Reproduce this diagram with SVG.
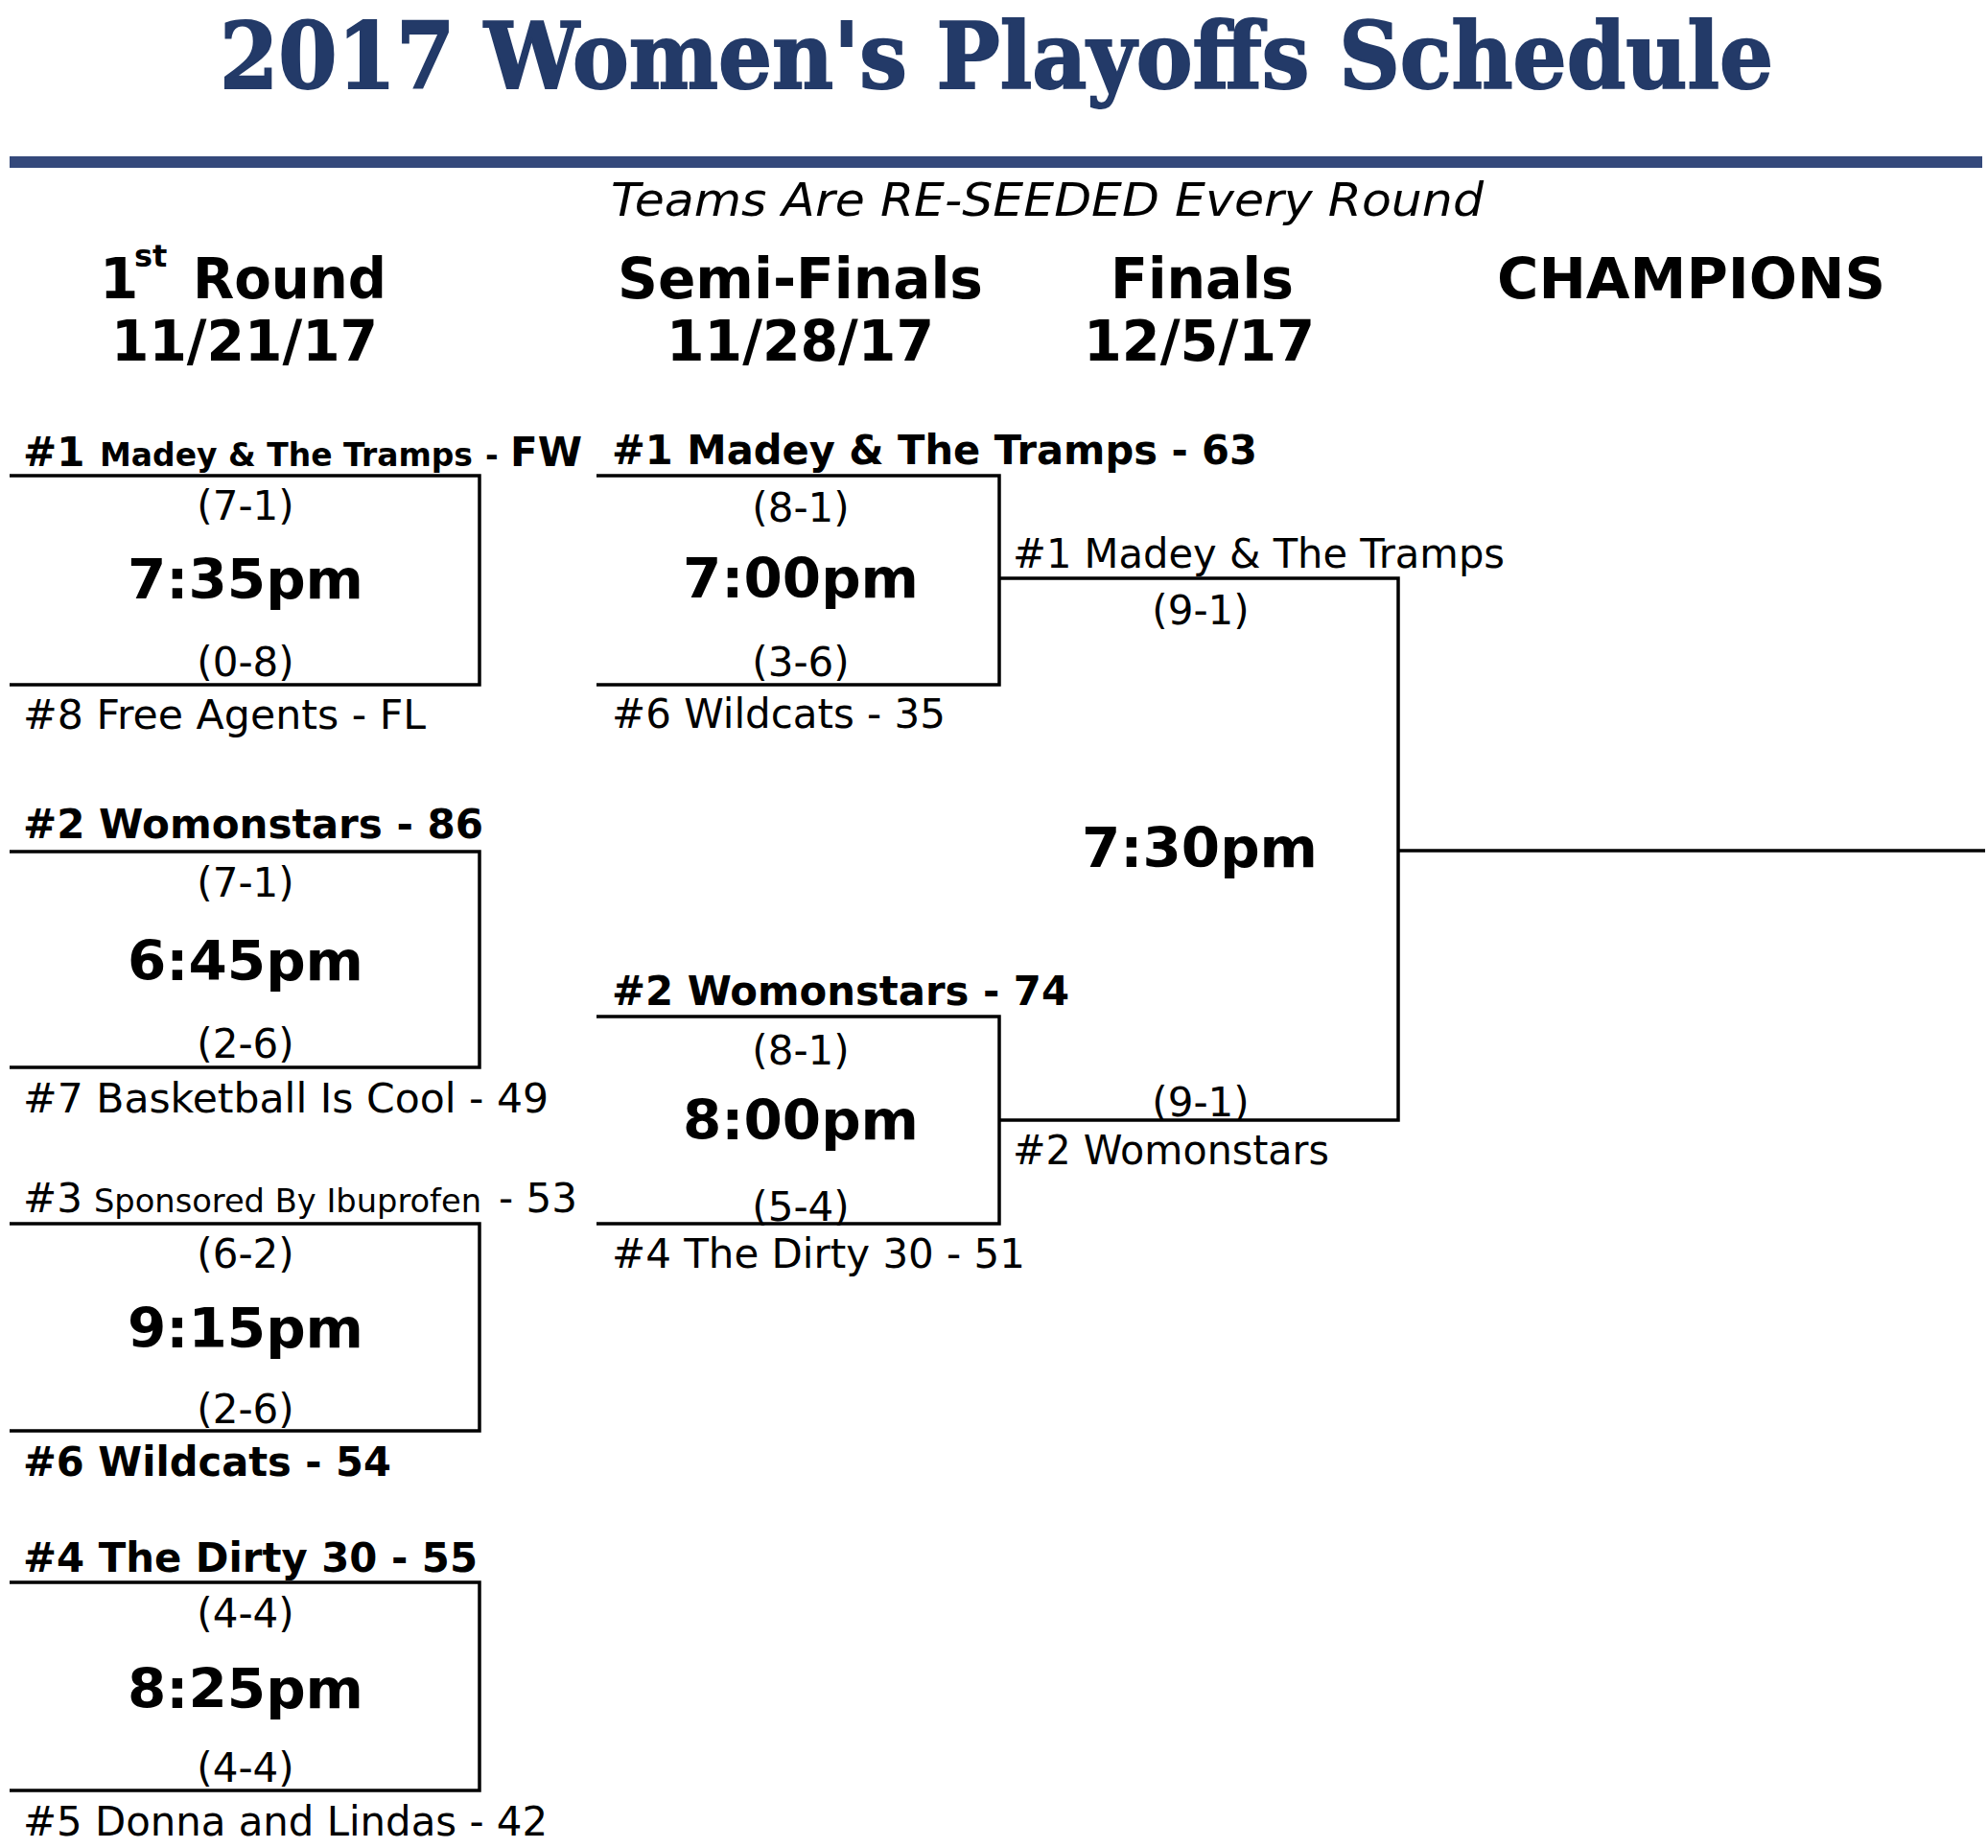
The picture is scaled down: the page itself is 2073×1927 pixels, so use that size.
<svg xmlns="http://www.w3.org/2000/svg" width="2073" height="1927" viewBox="0 0 2073 1927">
<style>
text{font-family:"DejaVu Sans",Verdana,sans-serif;fill:#000}
.title{font-family:"DejaVu Serif","Liberation Serif",serif;font-weight:bold;font-size:96px;fill:#233a68;stroke:#233a68;stroke-width:2}
.sub{font-style:italic;font-size:48px}
.hd{font-weight:bold;font-size:58px}
.sup{font-weight:bold;font-size:32px}
.lb{font-size:42px}
.lbb{font-size:42px;font-weight:bold}
.rec{font-size:42px;text-anchor:middle}
.tm{font-size:57px;font-weight:bold;text-anchor:middle}
.br{fill:none;stroke:#000;stroke-width:3.5;stroke-linejoin:miter}
</style>
<rect width="2073" height="1927" fill="#fff"/>
<g id="header">
<text class="title" x="229" y="92" textLength="1620" lengthAdjust="spacingAndGlyphs">2017 Women's Playoffs Schedule</text>
<rect x="10" y="163" width="2057" height="12" fill="#34497b"/>
<text class="sub" x="637" y="225" textLength="910" lengthAdjust="spacingAndGlyphs">Teams Are RE-SEEDED Every Round</text>
<text class="hd" x="104" y="311">1</text>
<text class="sup" x="140" y="278">st</text>
<text class="hd" x="201" y="311" textLength="202" lengthAdjust="spacingAndGlyphs">Round</text>
<text class="hd" x="116" y="376" textLength="278" lengthAdjust="spacingAndGlyphs">11/21/17</text>
<text class="hd" x="644" y="311" textLength="381" lengthAdjust="spacingAndGlyphs">Semi-Finals</text>
<text class="hd" x="695" y="376" textLength="279" lengthAdjust="spacingAndGlyphs">11/28/17</text>
<text class="hd" x="1158" y="311" textLength="191" lengthAdjust="spacingAndGlyphs">Finals</text>
<text class="hd" x="1130" y="376" textLength="241" lengthAdjust="spacingAndGlyphs">12/5/17</text>
<text class="hd" x="1561" y="311" textLength="405" lengthAdjust="spacingAndGlyphs">CHAMPIONS</text>
</g>
<g id="match-r1-1">
<polyline class="br" points="10,496 500,496 500,714 10,714"/>
<text class="lbb" x="24" y="486">#1 <tspan x="104" font-size="33" style="font-size:33px" textLength="389" lengthAdjust="spacingAndGlyphs">Madey &amp; The Tramps</tspan><tspan x="506" style="font-size:33px">-</tspan><tspan x="532">FW</tspan></text>
<text class="rec" x="256" y="542">(7-1)</text>
<text class="tm" x="256" y="624" textLength="246" lengthAdjust="spacingAndGlyphs">7:35pm</text>
<text class="rec" x="256" y="705">(0-8)</text>
<text class="lb" x="24" y="760" textLength="420" lengthAdjust="spacingAndGlyphs">#8 Free Agents - FL</text>
</g>
<g id="match-r1-2">
<polyline class="br" points="10,888 500,888 500,1113 10,1113"/>
<text class="lbb" x="24" y="874" textLength="480" lengthAdjust="spacingAndGlyphs">#2 Womonstars - 86</text>
<text class="rec" x="256" y="935">(7-1)</text>
<text class="tm" x="256" y="1022" textLength="246" lengthAdjust="spacingAndGlyphs">6:45pm</text>
<text class="rec" x="256" y="1103">(2-6)</text>
<text class="lb" x="24" y="1160" textLength="548" lengthAdjust="spacingAndGlyphs">#7 Basketball Is Cool - 49</text>
</g>
<g id="match-r1-3">
<polyline class="br" points="10,1276 500,1276 500,1492 10,1492"/>
<text class="lb" x="24" y="1264">#3 <tspan x="98" style="font-size:33px" textLength="404" lengthAdjust="spacingAndGlyphs">Sponsored By Ibuprofen</tspan><tspan x="520">- 53</tspan></text>
<text class="rec" x="256" y="1322">(6-2)</text>
<text class="tm" x="256" y="1405" textLength="246" lengthAdjust="spacingAndGlyphs">9:15pm</text>
<text class="rec" x="256" y="1484">(2-6)</text>
<text class="lbb" x="24" y="1539" textLength="384" lengthAdjust="spacingAndGlyphs">#6 Wildcats - 54</text>
</g>
<g id="match-r1-4">
<polyline class="br" points="10,1650 500,1650 500,1867 10,1867"/>
<text class="lbb" x="24" y="1639" textLength="474" lengthAdjust="spacingAndGlyphs">#4 The Dirty 30 - 55</text>
<text class="rec" x="256" y="1697">(4-4)</text>
<text class="tm" x="256" y="1781" textLength="246" lengthAdjust="spacingAndGlyphs">8:25pm</text>
<text class="rec" x="256" y="1858">(4-4)</text>
<text class="lb" x="24" y="1914" textLength="547" lengthAdjust="spacingAndGlyphs">#5 Donna and Lindas - 42</text>
</g>
<g id="match-sf-1">
<polyline class="br" points="622,496 1042,496 1042,714 622,714"/>
<text class="lbb" x="638" y="484" textLength="673" lengthAdjust="spacingAndGlyphs">#1 Madey &amp; The Tramps - 63</text>
<text class="rec" x="835" y="544">(8-1)</text>
<text class="tm" x="835" y="623" textLength="246" lengthAdjust="spacingAndGlyphs">7:00pm</text>
<text class="rec" x="835" y="705">(3-6)</text>
<text class="lb" x="638" y="759" textLength="348" lengthAdjust="spacingAndGlyphs">#6 Wildcats - 35</text>
</g>
<g id="match-sf-2">
<polyline class="br" points="622,1060 1042,1060 1042,1276 622,1276"/>
<text class="lbb" x="638" y="1048" textLength="477" lengthAdjust="spacingAndGlyphs">#2 Womonstars - 74</text>
<text class="rec" x="835" y="1110">(8-1)</text>
<text class="tm" x="835" y="1188" textLength="246" lengthAdjust="spacingAndGlyphs">8:00pm</text>
<text class="rec" x="835" y="1273">(5-4)</text>
<text class="lb" x="638" y="1322" textLength="431" lengthAdjust="spacingAndGlyphs">#4 The Dirty 30 - 51</text>
</g>
<g id="match-final">
<text class="lb" x="1056" y="592" textLength="513" lengthAdjust="spacingAndGlyphs">#1 Madey &amp; The Tramps</text>
<text class="rec" x="1252" y="651">(9-1)</text>
<text class="tm" x="1251" y="904" textLength="246" lengthAdjust="spacingAndGlyphs">7:30pm</text>
<text class="rec" x="1252" y="1164">(9-1)</text>
<text class="lb" x="1056" y="1214" textLength="330" lengthAdjust="spacingAndGlyphs">#2 Womonstars</text>
</g>
<g id="connectors">
<polyline class="br" points="1042,603 1458,603 1458,1168 1042,1168"/>
<line class="br" x1="1458" y1="887" x2="2070" y2="887"/>
</g>
</svg>
